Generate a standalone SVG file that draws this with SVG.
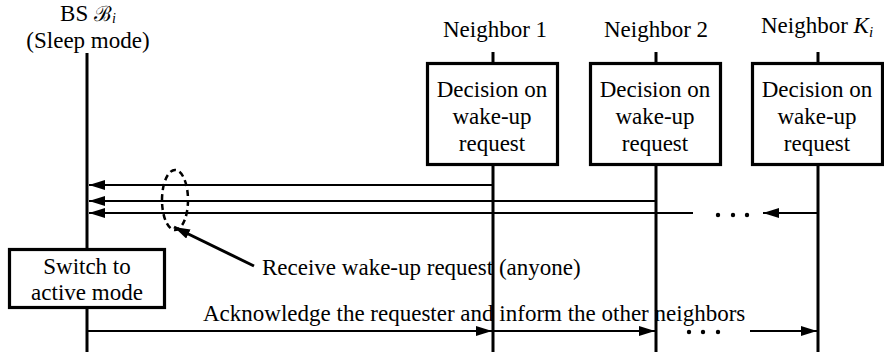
<svg xmlns="http://www.w3.org/2000/svg" width="884" height="358" viewBox="0 0 884 358">
  <style>
    text { font-family: "Liberation Serif", "DejaVu Serif", serif; font-size: 23px; fill: #000; }
    .mid { text-anchor: middle; }
    .life { stroke: #000; stroke-width: 3; fill: none; }
    .box { stroke: #000; stroke-width: 3.2; fill: #fff; }
    .msg { stroke: #000; stroke-width: 2; fill: none; }
    .dot { fill: #000; }
  </style>
  <defs>
    <marker id="head" viewBox="0 0 16 10" refX="16" refY="5" markerWidth="16" markerHeight="10" markerUnits="userSpaceOnUse" orient="auto">
      <path d="M0,0 L16,5 L0,10 Z" fill="#000"/>
    </marker>
  </defs>

  <!-- base station lifeline -->
  <g id="bs">
    <text class="mid" x="88" y="21">BS <tspan font-family="DejaVu Serif, serif" font-size="21">ℬ</tspan><tspan font-style="italic" font-size="14" dy="2">i</tspan></text>
    <text class="mid" x="88" y="48">(Sleep mode)</text>
    <line class="life" x1="87" y1="53" x2="87" y2="352"/>
  </g>

  <g id="neighbor1">
    <text class="mid" x="495" y="37">Neighbor 1</text>
    <line class="life" x1="493" y1="52" x2="493" y2="352"/>
    <rect class="box" x="427.5" y="63.5" width="130" height="101"/>
    <text class="mid" x="492" y="97">Decision on</text>
    <text class="mid" x="492" y="124">wake-up</text>
    <text class="mid" x="492" y="151">request</text>
  </g>

  <g id="neighbor2">
    <text class="mid" x="656" y="37">Neighbor 2</text>
    <line class="life" x1="656" y1="52" x2="656" y2="352"/>
    <rect class="box" x="590.5" y="63.5" width="130" height="101"/>
    <text class="mid" x="655" y="97">Decision on</text>
    <text class="mid" x="655" y="124">wake-up</text>
    <text class="mid" x="655" y="151">request</text>
  </g>

  <g id="neighborK">
    <text class="mid" x="817" y="33">Neighbor <tspan font-style="italic">K</tspan><tspan font-style="italic" font-size="15" dy="4">i</tspan></text>
    <line class="life" x1="818" y1="52" x2="818" y2="352"/>
    <rect class="box" x="752.5" y="63.5" width="130" height="101"/>
    <text class="mid" x="817" y="97">Decision on</text>
    <text class="mid" x="817" y="124">wake-up</text>
    <text class="mid" x="817" y="151">request</text>
  </g>

  <g id="switch">
    <rect class="box" x="9.5" y="249.5" width="155" height="58"/>
    <text class="mid" x="87" y="274">Switch to</text>
    <text class="mid" x="87" y="300">active mode</text>
  </g>

  <!-- messages -->
  <g id="connectors">
    <line class="msg" x1="493" y1="185" x2="89" y2="185" marker-end="url(#head)"/>
    <line class="msg" x1="656" y1="201" x2="89" y2="201" marker-end="url(#head)"/>
    <line class="msg" x1="693" y1="213" x2="89" y2="213" marker-end="url(#head)"/>
    <circle class="dot" cx="718" cy="215" r="2.2"/>
    <circle class="dot" cx="733" cy="215" r="2.2"/>
    <circle class="dot" cx="747" cy="215" r="2.2"/>
    <line class="msg" x1="818" y1="213" x2="763" y2="213" marker-end="url(#head)"/>

    <ellipse cx="175" cy="200" rx="13" ry="30" fill="none" stroke="#000" stroke-width="2.5" stroke-dasharray="6 4"/>
    <line stroke="#000" stroke-width="3" x1="254" y1="266" x2="174" y2="227" marker-end="url(#head)"/>

    <line class="msg" x1="87" y1="331" x2="492" y2="331" marker-end="url(#head)"/>
    <line class="msg" x1="493" y1="331" x2="655" y2="331" marker-end="url(#head)"/>
    <circle class="dot" cx="689" cy="332" r="2.2"/>
    <circle class="dot" cx="703" cy="332" r="2.2"/>
    <circle class="dot" cx="718" cy="332" r="2.2"/>
    <line class="msg" x1="750" y1="331" x2="817" y2="331" marker-end="url(#head)"/>
  </g>

  <text x="262" y="275">Receive wake-up request (anyone)</text>
  <text x="203" y="321">Acknowledge the requester and inform the other  neighbors</text>
</svg>
